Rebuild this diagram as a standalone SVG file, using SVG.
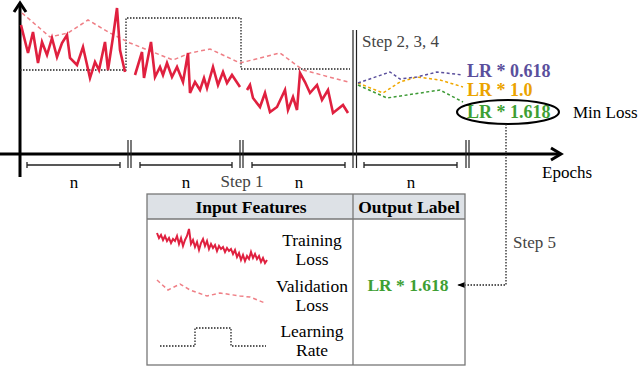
<svg xmlns="http://www.w3.org/2000/svg" width="640" height="367" viewBox="0 0 640 367">
<style>
.t{font-family:"Liberation Serif","Times New Roman",serif;fill:#000}
.b{font-weight:bold}
.st{fill:#444}
.ax{stroke:#000;stroke-width:3;fill:none}
.tr{stroke:#e0203f;stroke-width:2.6;fill:none;stroke-linejoin:miter}
.va{stroke:#ef7f86;stroke-width:1.5;fill:none;stroke-dasharray:4 3}
.lr{stroke:#222;stroke-width:1.3;fill:none;stroke-dasharray:1.5 1.5}
.br{stroke:#222;stroke-width:1.3;fill:none}
.db{stroke:#222;stroke-width:1.2;fill:none}
</style>
<defs>
<marker id="ah" viewBox="0 0 10 10" refX="9" refY="5" markerWidth="6" markerHeight="6" orient="auto">
<path d="M0,1 L10,5 L0,9 z" fill="#000"/>
</marker>
</defs>

<g id="axes">
<line class="ax" x1="20" y1="4" x2="20" y2="177"/>
<polyline class="ax" points="14,12 20,3 26,12"/>
<line class="ax" x1="0" y1="154" x2="560" y2="154"/>
<polyline class="ax" points="551,148 561,154 551,160"/>
<text class="t" x="542" y="178" font-size="17">Epochs</text>
</g>

<g id="separators">
<path class="db" d="M128,140V168M131,140V168M240,140V168M243,140V168M353,30V168M356.5,30V168M466,140V168M469,140V168"/>
<path class="br" d="M27,162V168M27,165H120M120,162V168M140,162V168M140,165H232M232,162V168M252,162V168M252,165H345M345,162V168M364,162V168M364,165H457M457,162V168"/>
<text class="t" x="74" y="188" font-size="17" text-anchor="middle">n</text>
<text class="t" x="186" y="188" font-size="17" text-anchor="middle">n</text>
<text class="t" x="299" y="188" font-size="17" text-anchor="middle">n</text>
<text class="t" x="411" y="188" font-size="17" text-anchor="middle">n</text>
<text class="t st" x="242" y="187" font-size="17" text-anchor="middle">Step 1</text>
</g>

<g id="learning-rate">
<polyline class="lr" points="20,70 126,70 126,18 241,18 241,69 350,69"/>
</g>

<g id="validation-loss">
<polyline class="va" points="22,13 50,37 68,33 88,20 110,33 130,43 173,60 190,53 210,49 240,63 280,53 303,70 348,82"/>
</g>

<g id="training-loss">
<polyline class="tr" points="21,25 28,53 33,32 38,63 42,42 47,55 52,38 57,57 62,43 67,35 70,58 77,65 83,47 90,78 95,62 99,70 105,42 108,70 113,37 117,8 120,50 125,72"/>
<polyline class="tr" points="135,75 142,52 144,78 151,42 155,77 160,67 163,75 167,63 172,77 177,67 183,82 188,53 190,93 195,82 200,90 204,78 207,88 213,67 218,85 223,72 227,83 232,75 240,87"/>
<polyline class="tr" points="247,90 250,85 253,98 260,107 265,93 270,112 277,107 285,90 288,110 293,97 297,110 300,73 305,82 310,93 317,85 322,100 328,90 333,113 343,105 348,113"/>
</g>

<g id="step234">
<text class="t st" x="362" y="47" font-size="17">Step 2, 3, 4</text>
<polyline fill="none" stroke="#f0a800" stroke-width="1.5" stroke-dasharray="3 2.5" points="358,83 383,93 400,82 417,77 440,80 463,87"/>
<polyline fill="none" stroke="#5a4f9c" stroke-width="1.5" stroke-dasharray="3 2.5" points="358,83 390,72 400,79 417,77 437,72 463,75"/>
<polyline fill="none" stroke="#3d9a35" stroke-width="1.5" stroke-dasharray="3 2.5" points="358,85 387,98 407,95 440,90 463,102"/>
<text class="t b" x="467" y="77" font-size="18" style="fill:#5a4f9c">LR * 0.618</text>
<text class="t b" x="467" y="96" font-size="18" style="fill:#eba300">LR * 1.0</text>
<text class="t b" x="467" y="118" font-size="18" style="fill:#3e9f33">LR * 1.618</text>
<ellipse cx="508" cy="112" rx="51" ry="12" fill="none" stroke="#000" stroke-width="2"/>
<text class="t" x="573" y="118" font-size="17">Min Loss</text>
</g>

<g id="step5">
<polyline class="lr" stroke-dasharray="1.5 2" points="506,124 506,285 458,285" marker-end="url(#ah)"/>
<text class="t st" x="513" y="248" font-size="17">Step 5</text>
</g>

<g id="table">
<rect x="147" y="194" width="318" height="25" fill="#dde1e6"/>
<rect x="147" y="194" width="318" height="171" fill="none" stroke="#777" stroke-width="1.3"/>
<line x1="147" y1="219" x2="465" y2="219" stroke="#777" stroke-width="1.3"/>
<line x1="353" y1="194" x2="353" y2="365" stroke="#777" stroke-width="1.3"/>
<text class="t b" x="251" y="213" font-size="17.5" text-anchor="middle">Input Features</text>
<text class="t b" x="409" y="213" font-size="17.5" text-anchor="middle">Output Label</text>
<polyline fill="none" stroke="#e0203f" stroke-width="2" points="157,233 159,238 161,235 163,240 165,236 167,241 169,238 171,243 173,239 175,241 177,236 179,244 181,238 183,246 185,240 187,236 189,229 191,244 193,240 195,247 197,242 199,250 201,243 203,239 205,246 207,241 209,249 211,244 213,248 215,245 217,251 219,246 221,249 223,247 225,252 227,248 229,251 231,249 233,254 235,250 237,257 239,253 241,260 243,255 245,261 247,256 249,259 251,252 253,258 255,254 257,259 259,256 261,262 263,258 265,263 267,260"/>
<polyline class="va" points="157,280 168,290 180,284 190,290 207,296 220,293 240,296 250,297 265,303"/>
<polyline class="lr" points="160,346 195,346 195,328 231,328 231,346 266,346"/>
<text class="t" x="312" y="246" font-size="17.5" text-anchor="middle">Training</text>
<text class="t" x="312" y="265" font-size="17.5" text-anchor="middle">Loss</text>
<text class="t" x="312" y="292" font-size="17.5" text-anchor="middle">Validation</text>
<text class="t" x="312" y="311" font-size="17.5" text-anchor="middle">Loss</text>
<text class="t" x="312" y="337" font-size="17.5" text-anchor="middle">Learning</text>
<text class="t" x="312" y="356" font-size="17.5" text-anchor="middle">Rate</text>
<text class="t b" x="408" y="291" font-size="17.5" text-anchor="middle" style="fill:#3e9f33">LR * 1.618</text>
</g>
</svg>
